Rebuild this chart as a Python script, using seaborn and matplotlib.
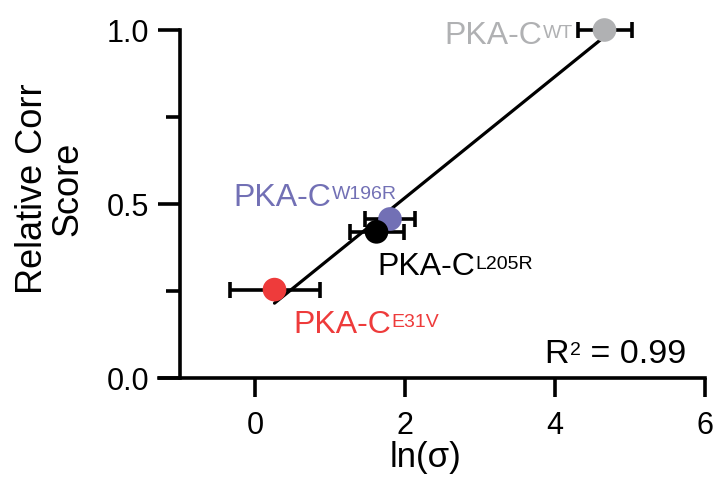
import numpy as np
import pandas as pd
import matplotlib
matplotlib.use("Agg")
import matplotlib.pyplot as plt
from matplotlib.ticker import FixedLocator
import seaborn as sns

# ---- data ----
variants = ["WT", "W196R", "L205R", "E31V"]
ln_sigma = [4.66, 1.80, 1.62, 0.26]
ln_sigma_err = [0.36, 0.33, 0.36, 0.60]
corr_score = [1.00, 0.457, 0.420, 0.254]
r_squared = 0.99
x_ticks = [0, 2, 4, 6]
y_ticks = [0.0, 0.5, 1.0]
y_tick_labels = ["0.0", "0.5", "1.0"]
y_minor_ticks = [0.25, 0.75]

palette = {"WT": "#b0b1b3", "W196R": "#7270b5", "L205R": "#000000", "E31V": "#ee3b3b"}
label_pos = {"WT": (2.52, 0.962), "W196R": (-0.29, 0.498),
             "L205R": (1.63, 0.298), "E31V": (0.51, 0.132)}

df = pd.DataFrame({"variant": variants, "ln_sigma": ln_sigma,
                   "err": ln_sigma_err, "score": corr_score})

sns.set_theme(style="ticks")
plt.rcParams["font.family"] = ["Liberation Sans", "DejaVu Sans"]
for k in ["text.color", "axes.labelcolor", "xtick.color", "ytick.color",
          "xtick.labelcolor", "ytick.labelcolor", "axes.edgecolor"]:
    plt.rcParams[k] = "black"

fig = plt.figure(figsize=(7.18, 4.81), dpi=100)
ax = fig.add_axes([159 / 718, 102 / 481, 546 / 718, 348 / 481])

# regression line
sns.regplot(data=df, x="ln_sigma", y="score", scatter=False, ci=None,
            truncate=True, ax=ax,
            line_kws={"color": "black", "lw": 2.3, "zorder": 2})

# error bars and points
for _, r in df.iterrows():
    ax.errorbar(r["ln_sigma"], r["score"], xerr=r["err"], fmt="none",
                ecolor="black", elinewidth=2.6, capsize=5.5, capthick=2.6,
                zorder=3, clip_on=False)
sns.scatterplot(data=df, x="ln_sigma", y="score", hue="variant",
                palette=palette, hue_order=["WT", "E31V", "W196R", "L205R"],
                s=290, linewidth=0, legend=False, ax=ax, zorder=4,
                clip_on=False)


def sup_text(x, y, main, sup, tail="", color="black", size=23, sup_size=14):
    t = ax.text(x, y, main, color=color, fontsize=size, ha="left", va="baseline")
    s = ax.annotate(sup, xy=(1, 1), xycoords=t, xytext=(0.5, -2.5),
                    textcoords="offset points", color=color,
                    fontsize=sup_size, ha="left", va="top")
    if tail:
        ax.annotate(tail, xy=(1, 0), xycoords=(s, t), color=color,
                    fontsize=size, ha="left", va="bottom")


# labels
for v in variants:
    x, y = label_pos[v]
    sup_text(x, y, "PKA-C", v, color=palette[v])
sup_text(3.86, 0.046, "R", "2", tail=" = %.2f" % r_squared, size=24.5,
         sup_size=14)

# axes styling
ax.set_xlim(-1.28, 6.0)
ax.set_ylim(0, 1.0)
ax.spines["left"].set_position(("data", -1))
ax.spines["left"].set_bounds(0, 1.0)
for s in ["top", "right"]:
    ax.spines[s].set_visible(False)
for s in ["left", "bottom"]:
    ax.spines[s].set_linewidth(2.6)
    ax.spines[s].set_capstyle("projecting")

ax.set_xticks(x_ticks)
ax.set_xticklabels([str(t) for t in x_ticks])
ax.set_yticks(y_ticks)
ax.set_yticklabels(y_tick_labels)
ax.yaxis.set_minor_locator(FixedLocator(y_minor_ticks))
ax.tick_params(axis="both", which="major", labelsize=22, width=2.6, color="black")
ax.tick_params(axis="x", which="major", length=14, pad=9)
ax.tick_params(axis="y", which="major", length=16, pad=6)
ax.tick_params(axis="y", which="minor", length=10, width=2.6, color="black")

ax.set_xlabel("ln(σ)", fontsize=25)
ax.xaxis.set_label_coords(0.488, -0.178)
ax.set_ylabel("Relative Corr\nScore", fontsize=26, linespacing=1.0)
ax.yaxis.set_label_coords(-0.135, 0.546)

fig.savefig("out.png", dpi=100)
